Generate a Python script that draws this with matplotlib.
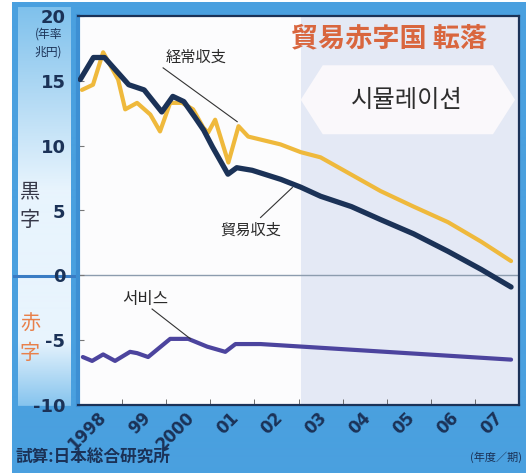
import numpy as np
import matplotlib
matplotlib.use('Agg')
import matplotlib.pyplot as plt
from matplotlib.patches import Polygon
from matplotlib.colors import to_rgb

# ---------------- data (fiscal year position, trillion yen) ----------------
trade_x = [1998.05, 1998.35, 1998.6, 1999.15, 1999.5, 1999.9, 2000.15, 2000.4,
           2000.65, 2000.85, 2001.05, 2001.4, 2001.6, 2001.95, 2002.6, 2003.05,
           2003.5, 2004.2, 2004.86, 2005.61, 2006.39, 2007.14, 2007.82]
trade_y = [15.1, 16.8, 16.8, 14.7, 14.3, 12.6, 13.8, 13.4,
           12.2, 11.2, 9.9, 7.8, 8.3, 8.1, 7.4, 6.8,
           6.1, 5.3, 4.3, 3.2, 1.85, 0.46, -0.9]

current_x = [1998.09, 1998.34, 1998.57, 1998.91, 1999.07, 1999.34, 1999.64, 1999.86,
             2000.09, 2000.36, 2000.61, 2000.84, 2000.95, 2001.11, 2001.41, 2001.64,
             2001.86, 2002.59, 2003.05, 2003.5, 2004.18, 2004.86, 2005.61, 2006.39,
             2007.14, 2007.82]
current_y = [14.3, 14.7, 17.2, 15.1, 12.8, 13.3, 12.4, 11.1,
             13.3, 13.3, 12.8, 11.4, 11.0, 12.0, 8.7, 11.5,
             10.7, 10.1, 9.5, 9.1, 7.8, 6.5, 5.3, 4.1,
             2.6, 1.1]

service_x = [1998.11, 1998.32, 1998.57, 1998.84, 1999.18, 1999.34, 1999.59, 2000.09,
             2000.5, 2000.93, 2001.34, 2001.57, 2002.14, 2007.82]
service_y = [-6.3, -6.6, -6.1, -6.6, -5.9, -6.0, -6.3, -4.9,
             -4.9, -5.5, -5.9, -5.3, -5.3, -6.5]

year_labels = ['1998', '99', '2000', '01', '02', '03', '04', '05', '06', '07']
y_ticks = [-10, -5, 0, 5, 10, 15, 20]
sim_start = 2003.05

# ---------------- figure ----------------
W, H = 526, 473
BLUE = '#4aa0df'
NAVY = '#1b3257'
fig = plt.figure(figsize=(W / 100, H / 100), dpi=100)
fig.patch.set_facecolor(BLUE)

bg = fig.add_axes([0, 0, 1, 1])
bg.set_axis_off()
img = np.zeros((H, W, 3))
img[:] = to_rgb(BLUE)
top = np.array(to_rgb('#7fc1ec'))
mid = np.array(to_rgb('#e8f4fd'))
bot = np.array(to_rgb('#86c4ee'))
for yy in range(8, 406):
    if yy < 190:
        t = (yy - 8) / 182
        c = top * (1 - t) + mid * t
    elif yy < 340:
        c = mid
    else:
        t = (yy - 340) / 65
        c = mid * (1 - t) + bot * t
    img[yy, 18:71] = c
img[:, :12] = 1.0
img[:3, :] = 1.0
bg.imshow(img, extent=[0, W, H, 0], aspect='auto', interpolation='bilinear')
bg.set_xlim(0, W)
bg.set_ylim(H, 0)
bg.plot([14, 78], [276, 276], color='#3a7cc4', lw=2.2)

ax = fig.add_axes([78 / W, 1 - 405 / H, 441 / W, 389 / H])
ax.set_facecolor('#fcfcfd')
ax.set_xlim(1998, 2008)
ax.set_ylim(-10, 20)

ax.axvspan(sim_start, 2008, color='#e4e9f5', zorder=0, lw=0)
banner = Polygon([(2003.05, 13.54), (2003.55, 16.2), (2007.41, 16.2), (2007.91, 13.54),
                  (2007.41, 10.88), (2003.55, 10.88)], closed=True,
                 facecolor='#faf8fb', edgecolor='none', zorder=1)
ax.add_patch(banner)
ax.text(2005.45, 13.54, '시뮬레이션', fontsize=17.5, family=['Noto Sans CJK KR', 'DejaVu Sans'],
        color='#2e2e2e', ha='center', va='center', zorder=2)

ax.axhline(0, color='#8c9cae', lw=1.0, zorder=1)

ax.plot(current_x, current_y, color='#efb93c', lw=3.0, zorder=3, solid_capstyle='round',
        solid_joinstyle='round')
ax.plot(trade_x, trade_y, color=NAVY, lw=3.8, zorder=4, solid_capstyle='round',
        solid_joinstyle='round')
ax.plot(service_x, service_y, color='#4c449e', lw=3.0, zorder=3, solid_capstyle='round',
        solid_joinstyle='round')

jp = ['Noto Sans CJK JP', 'DejaVu Sans']
kr = ['Noto Sans CJK KR', 'DejaVu Sans']
# annotations
ax.text(2000.68, 16.8, '経常収支', fontsize=11, family=jp, color='#2a2a2a', ha='center', va='center')
ax.plot([1999.93, 2001.61], [16.0, 11.85], color='#333333', lw=0.8, zorder=5)
ax.text(2001.91, 3.5, '貿易収支', fontsize=11, family=jp, color='#2a2a2a', ha='center', va='center')
ax.plot([2002.14, 2002.86], [4.46, 6.77], color='#333333', lw=0.8, zorder=5)
ax.text(1999.52, -1.85, '서비스', fontsize=12, family=kr, color='#2a2a2a', ha='center', va='center')
ax.plot([1999.68, 2000.55], [-2.6, -4.9], color='#333333', lw=0.8, zorder=5)

# axes styling
for s in ['top', 'bottom', 'right']:
    ax.spines[s].set_color(NAVY)
    ax.spines[s].set_linewidth(1.6)
ax.spines['left'].set_color('#3d8fd3')
ax.spines['left'].set_linewidth(3)

ax.set_yticks(y_ticks)
ax.set_yticklabels([str(v) for v in y_ticks], fontsize=13, fontweight='bold', color=NAVY)
ax.tick_params(axis='y', direction='in', length=4, color='#777777', pad=9)

ax.set_xticks(np.arange(1999, 2008), minor=True)
ax.set_xticks(np.arange(1998, 2008) + 0.58)
ax.set_xticklabels(year_labels, fontsize=12, fontweight='bold', color=NAVY,
                   rotation=45, ha='right', va='center', rotation_mode='anchor')
ax.tick_params(axis='x', which='major', length=0, pad=7)
ax.tick_params(axis='x', which='minor', direction='in', length=4, color='#555555')

# figure texts
fig.text(389 / W, 1 - 38 / H, '貿易赤字国 転落', fontsize=19.5, fontweight='bold', family=jp,
         color='#d9663e', ha='center', va='center')
fig.text(49 / W, 1 - 34 / H, '(年率', fontsize=8.5, family=jp, color=NAVY, ha='center', va='center')
fig.text(48 / W, 1 - 52 / H, '兆円)', fontsize=8.5, family=jp, color=NAVY, ha='center', va='center')
fig.text(30 / W, 1 - 192 / H, '黒', fontsize=14.5, family=jp, color='#363848', ha='center', va='center')
fig.text(30 / W, 1 - 220 / H, '字', fontsize=14.5, family=jp, color='#363848', ha='center', va='center')
fig.text(30 / W, 1 - 323 / H, '赤', fontsize=14.5, family=jp, color='#e8804a', ha='center', va='center')
fig.text(30 / W, 1 - 353 / H, '字', fontsize=14.5, family=jp, color='#e8804a', ha='center', va='center')
fig.text(15 / W, 1 - 457 / H, '試算:日本総合研究所', fontsize=12, fontweight='bold', family=jp,
         color=NAVY, ha='left', va='center')
fig.text(522 / W, 1 - 457 / H, '(年度／期)', fontsize=8, family=jp, color=NAVY,
         ha='right', va='center')

fig.savefig('out.png', dpi=100, facecolor=fig.get_facecolor())
